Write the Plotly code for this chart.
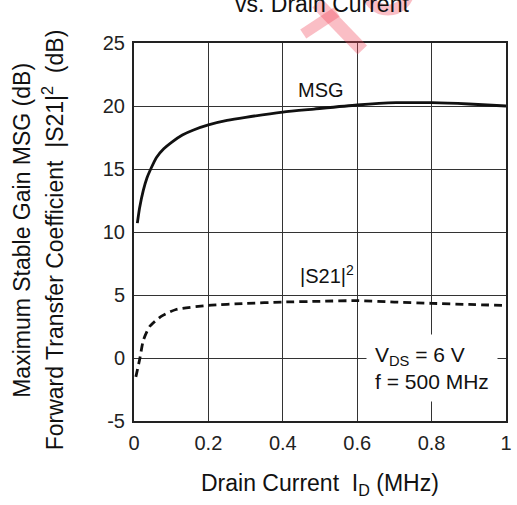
import plotly.graph_objects as go

# Drain current axis (0..1) and measured curves
msg_id = [0.009, 0.015, 0.025, 0.035, 0.045, 0.06, 0.08, 0.1, 0.13, 0.16, 0.2, 0.25, 0.3,
          0.4, 0.484, 0.6, 0.705, 0.8, 0.9, 1.0]
msg_db = [10.7, 11.9, 13.3, 14.3, 15.0, 15.9, 16.6, 17.1, 17.7, 18.1, 18.5, 18.85, 19.1,
          19.52, 19.76, 20.08, 20.26, 20.26, 20.16, 20.0]

s21_id = [0.005, 0.016, 0.025, 0.042, 0.073, 0.113, 0.2, 0.3, 0.4, 0.5, 0.6, 0.7, 0.8, 0.9, 1.0]
s21_db = [-1.5, 0.0, 1.4, 2.5, 3.3, 3.85, 4.17, 4.33, 4.44, 4.5, 4.55, 4.44, 4.34, 4.25, 4.17]

x_ticks = [0, 0.2, 0.4, 0.6, 0.8, 1.0]
x_tick_text = ["0", "0.2", "0.4", "0.6", "0.8", "1"]
y_ticks = [-5, 0, 5, 10, 15, 20, 25]
y_tick_text = ["-5", "0", "5", "10", "15", "20", "25"]

FONT = "Liberation Sans, Arial, Helvetica, sans-serif"
W, H = 517, 505
L, R, T, B = 134, 5, 43, 84
PW, PH = W - L - R, H - T - B


def px(xp):
    return (xp - L) / PW


def py(yp):
    return (H - B - yp) / PH


fig = go.Figure()
fig.add_trace(go.Scatter(x=msg_id, y=msg_db, mode="lines",
                         line=dict(color="#111", width=2.8, shape="spline", smoothing=0.6),
                         showlegend=False, hoverinfo="skip"))
fig.add_trace(go.Scatter(x=s21_id, y=s21_db, mode="lines",
                         line=dict(color="#111", width=2.8, shape="spline", smoothing=0.6,
                                   dash="8px,5px"),
                         showlegend=False, hoverinfo="skip"))

axis_common = dict(showgrid=True, gridcolor="#333", gridwidth=1,
                   showline=True, linecolor="#222", linewidth=2, mirror=True,
                   zeroline=False, ticks="outside", ticklen=3,
                   tickcolor="rgba(0,0,0,0)",
                   tickfont=dict(family=FONT, size=20, color="#222"))

fig.update_xaxes(range=[0, 1], tickvals=x_ticks, ticktext=x_tick_text, **axis_common)
fig.update_yaxes(range=[-5, 25], tickvals=y_ticks, ticktext=y_tick_text, **axis_common)


def note(x, y, text, size, ref="paper", **kw):
    d = dict(x=x, y=y, xref=ref, yref=ref, text=text, showarrow=False,
             xanchor="center", yanchor="middle",
             font=dict(family=FONT, size=size, color="#111"))
    d.update(kw)
    return d


ann = [
    # curve labels
    note(0.503, 21.3, "MSG", 20, ref="data"),
    note(0.44, 6.6, "|S21|<sup>2</sup>", 20, ref="data", xanchor="left"),
    # test conditions
    note(px(370), py(368), "V<sub>DS</sub> = 6 V<br>f = 500 MHz", 21,
         xanchor="left", align="left", bgcolor="white", borderpad=8),
    # axis titles
    note(0.5, py(484), "Drain Current\u00a0\u00a0I<sub>D</sub> (MHz)", 23),
    note(px(20), py(230), "Maximum Stable Gain MSG (dB)", 23, textangle=-90),
    note(px(52), py(240),
         "Forward Transfer Coefficient\u00a0\u00a0|S21|<sup>2</sup>\u00a0\u00a0(dB)", 23,
         textangle=-90),
    # chart title (its first line sits above the page)
    note(px(325), py(4), "vs. Drain Current", 23),
]
for a in ann:
    if a["xref"] == "data":
        a["xref"], a["yref"] = "x", "y"

# faint stamp over the top edge
stamp = "rgba(240,70,90,0.35)"
shapes = [
    dict(type="line", xref="paper", yref="paper", layer="above",
         x0=px(320), y0=py(3), x1=px(366), y1=py(50), line=dict(color=stamp, width=13)),
    dict(type="line", xref="paper", yref="paper", layer="above",
         x0=px(306), y0=py(34), x1=px(340), y1=py(12), line=dict(color=stamp, width=11)),
    dict(type="circle", xref="paper", yref="paper", layer="above",
         x0=px(370), y0=py(10), x1=px(414), y1=py(-34), line=dict(color=stamp, width=11)),
]

fig.update_layout(width=W, height=H, margin=dict(l=L, r=R, t=T, b=B),
                  paper_bgcolor="white", plot_bgcolor="white",
                  annotations=ann, shapes=shapes, showlegend=False)

fig.write_html("out.html")
